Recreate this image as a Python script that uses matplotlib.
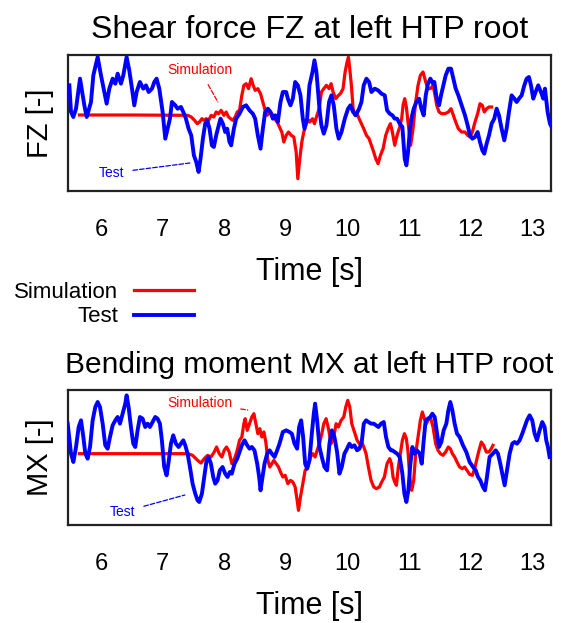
import matplotlib
matplotlib.use("Agg")
import matplotlib.pyplot as plt

plt.rcParams['font.family'] = ['Liberation Sans', 'DejaVu Sans']

# ---------------- data (time in s, signal in normalised units) ----------------
fz_test_t = [5.487, 5.514, 5.552, 5.595, 5.660, 5.703, 5.730, 5.768, 5.800, 5.838, 5.876, 5.946,
             6.000, 6.054, 6.092, 6.135, 6.189, 6.233, 6.270, 6.324, 6.362, 6.416, 6.459, 6.503,
             6.540, 6.578, 6.632, 6.686, 6.730, 6.773, 6.827, 6.865, 6.902, 6.946, 7.000, 7.043,
             7.081, 7.119, 7.151, 7.205, 7.243, 7.297, 7.335, 7.378, 7.421,
             7.464, 7.507, 7.545, 7.583, 7.615, 7.653, 7.691, 7.723, 7.761, 7.799, 7.831, 7.869,
             7.896, 7.939, 7.977, 8.015, 8.047, 8.085, 8.112, 8.156, 8.193, 8.247, 8.301, 8.355,
             8.409, 8.463, 8.501, 8.544, 8.588, 8.626, 8.663, 8.707, 8.750, 8.788, 8.825, 8.869,
             8.912, 8.950, 9.004, 9.031, 9.074, 9.112, 9.150, 9.193, 9.236, 9.274, 9.301, 9.344,
             9.382, 9.431, 9.463, 9.495, 9.522, 9.549, 9.576, 9.614, 9.657, 9.700, 9.738, 9.776,
             9.819, 9.857, 9.901, 9.955, 10.008, 10.046, 10.090, 10.133, 10.187, 10.225, 10.262,
             10.306, 10.349, 10.387, 10.441, 10.495, 10.549, 10.603, 10.641, 10.684, 10.727,
             10.765, 10.803, 10.846, 10.889, 10.927, 10.954, 10.981, 11.008, 11.035, 11.073,
             11.116, 11.160, 11.197, 11.235, 11.268, 11.305, 11.343, 11.387,
             11.408, 11.446, 11.484, 11.516, 11.554, 11.592, 11.635, 11.678, 11.716, 11.754,
             11.797, 11.851, 11.905, 11.948, 11.986, 12.024, 12.067, 12.110, 12.148, 12.186,
             12.218, 12.256, 12.294, 12.337, 12.380, 12.418, 12.456, 12.499, 12.542, 12.580,
             12.618, 12.661, 12.705, 12.743, 12.780, 12.824, 12.867, 12.905, 12.942, 12.975,
             13.012, 13.050, 13.093, 13.137, 13.175, 13.202, 13.245, 13.283, 13.310]
fz_test_v = [0.89, 0.09, -0.06, 0.19, 1.09, 0.59, 0.29, -0.06, 0.14, 0.39, 1.19, 1.74,
             1.19, 0.69, 0.34, 0.79, 1.09, 0.94, 1.24, 0.94, 1.19, 1.74, 1.34, 0.79,
             0.29, 0.69, 0.99, 0.79, 0.89, 0.69, 0.79, 0.99, 1.09, 0.79, 0.09, -0.71,
             -0.41, -0.11, 0.39, 0.29, 0.19, 0.24, 0.09, -0.11, -0.41,
             -0.61, -1.21, -1.41, -1.71, -1.31, -0.71, -0.26, -0.16, -0.41, -0.91, -0.96, -0.61,
             -0.41, -0.11, -0.26, -0.51, -0.41, -0.81, -0.91, -0.41, -0.11, 0.04, 0.24, 0.29,
             0.14, 0.04, -0.11, -0.61, -1.01, -0.41, 0.09, 0.19, 0.09, -0.11, -0.01, -0.21,
             0.39, 0.69, 0.69, 0.49, 0.29, 0.49, 0.99, 0.89, 0.59, -0.11, -0.41, -0.11,
             0.89, 1.29, 1.64, 1.29, 0.69, 0.09, -0.31, -0.56, -0.31, 0.39, 0.59, 0.29,
             -0.41, -0.71, -0.51, -0.11, 0.19, 0.29, 0.09, -0.01, 0.19, 0.39, 0.89,
             1.09, 0.99, 0.69, 0.79, 0.74, 0.64, 0.59, 0.14, 0.04, -0.01,
             -0.11, -0.11, -0.26, -0.36, -1.31, -1.51, -1.11, -0.51, -0.11, 0.19,
             0.39, 0.49, 0.19, -0.01, 0.59, 0.94, 1.09, 0.94,
             0.99, 0.49, 0.29, 0.59, 0.89, 1.19, 1.39, 1.39, 1.09, 0.79,
             0.59, 0.29, -0.01, -0.31, -0.61, -0.71, -0.66, -0.51, -0.81, -1.06,
             -1.16, -0.86, -0.61, -0.26, -0.11, 0.19, -0.01, -0.41, -0.76, -0.41,
             0.09, 0.59, 0.49, 0.39, 0.49, 0.59, 0.89, 1.09, 1.14, 0.89,
             0.49, 0.69, 0.89, 0.69, 0.49, 0.79, 0.09, -0.26, -0.36]

fz_sim_t = [5.650, 6.500, 7.410, 7.464, 7.518, 7.561, 7.599, 7.637, 7.669, 7.707, 7.745, 7.788,
            7.831, 7.869, 7.907, 7.950, 7.993, 8.031, 8.069, 8.102, 8.139, 8.177, 8.210, 8.247,
            8.285, 8.318, 8.355, 8.393, 8.436, 8.469, 8.501, 8.544, 8.588, 8.626, 8.663, 8.696,
            8.734, 8.771, 8.815, 8.858, 8.896, 8.933, 8.966, 9.004, 9.042, 9.085, 9.128, 9.166,
            9.193, 9.225, 9.258, 9.290, 9.328, 9.366,
            9.387, 9.431, 9.463, 9.495, 9.539, 9.576, 9.614, 9.657, 9.700, 9.733, 9.765, 9.809,
            9.852, 9.884, 9.927, 9.960, 9.992, 10.014, 10.035, 10.062, 10.090, 10.122, 10.154,
            10.187, 10.225, 10.262, 10.306, 10.349, 10.387, 10.424, 10.457, 10.495, 10.533,
            10.576, 10.619, 10.657, 10.695, 10.727, 10.765, 10.803, 10.846, 10.878, 10.900,
            10.927, 10.954, 10.986, 11.024, 11.062, 11.105, 11.143, 11.181, 11.224, 11.268,
            11.305, 11.343, 11.387,
            11.419, 11.446, 11.484, 11.527, 11.581, 11.635, 11.678, 11.716, 11.754, 11.797,
            11.851, 11.905, 11.948, 11.986, 12.024, 12.067, 12.110, 12.148, 12.186, 12.218,
            12.256, 12.294, 12.337]
fz_sim_v = [0.00, 0.00, -0.01, -0.06, -0.16, -0.26, -0.21, -0.11, -0.16, -0.11, -0.16, -0.01,
            -0.06, 0.09, 0.04, 0.14, -0.01, 0.09, -0.06, -0.11, -0.16, -0.06, 0.09, 0.14,
            0.59, 0.89, 0.94, 0.79, 1.09, 0.89, 0.74, 0.79, 0.64, 0.39, 0.14, -0.01,
            0.09, 0.04, -0.11, -0.21, -0.36, -0.51, -0.81, -0.61, -0.51, -0.61, -0.66, -1.11,
            -1.91, -1.31, -0.81, -0.51, -0.26, -0.16,
            -0.21, -0.11, -0.26, -0.06, 0.19, 0.69, 0.79, 0.89, 0.79, 0.94, 0.69, 0.49,
            0.59, 0.64, 0.79, 1.29, 1.59, 1.74, 1.39, 0.89, 0.19, -0.01, 0.04,
            -0.11, -0.26, -0.41, -0.61, -0.71, -0.91, -1.11, -1.31, -1.46, -1.21,
            -1.01, -0.61, -0.41, -0.26, -0.51, -0.91, -0.61, -0.36, -0.11, 0.29,
            0.49, 0.24, -0.31, -0.91, -0.41, 0.39, 0.89, 1.19, 1.29, 0.99,
            0.79, 0.79, 0.89,
            0.59, 0.29, 0.09, 0.04, 0.04, 0.09, 0.19, -0.01, -0.21, -0.41,
            -0.51, -0.51, -0.61, -0.66, -0.51, -0.21, 0.04, 0.34, 0.29, 0.09,
            0.19, 0.24, 0.24]

mx_test_t = [5.460, 5.514, 5.552, 5.595, 5.638, 5.676, 5.714, 5.746, 5.784, 5.822, 5.865, 5.908,
             5.946, 5.984, 6.027, 6.070, 6.108, 6.146, 6.189, 6.233, 6.270, 6.308, 6.351, 6.394,
             6.416, 6.448, 6.486, 6.524, 6.556, 6.594, 6.632, 6.675, 6.718, 6.756, 6.794, 6.837,
             6.880, 6.918, 6.956, 6.988, 7.026, 7.064, 7.097, 7.135, 7.172, 7.216, 7.259, 7.297,
             7.335, 7.367, 7.405, 7.443, 7.486, 7.529, 7.567, 7.594, 7.637, 7.675, 7.713, 7.745,
             7.783, 7.821, 7.853, 7.891, 7.928, 7.972, 8.015, 8.053, 8.091,
             8.123, 8.166, 8.210, 8.247, 8.285, 8.328, 8.372, 8.410, 8.447, 8.490, 8.534, 8.566,
             8.588, 8.620, 8.653, 8.696, 8.734, 8.772, 8.815, 8.858, 8.896, 8.950, 9.004, 9.058,
             9.096, 9.139, 9.182, 9.214, 9.247, 9.279, 9.312, 9.344, 9.382, 9.420, 9.452, 9.474,
             9.506, 9.544, 9.582, 9.625, 9.668, 9.706, 9.744, 9.787, 9.830, 9.868, 9.906, 9.949,
             9.992, 10.030, 10.068, 10.111, 10.155, 10.192, 10.230, 10.263, 10.300, 10.338,
             10.381, 10.425, 10.462, 10.500, 10.543, 10.587, 10.624, 10.662, 10.705,
             10.727, 10.765, 10.803, 10.846, 10.889, 10.922, 10.954, 10.986, 11.019, 11.051,
             11.089, 11.127, 11.170, 11.203, 11.235, 11.267, 11.305, 11.343, 11.375, 11.413,
             11.451, 11.483, 11.521, 11.559, 11.602, 11.635, 11.667, 11.700, 11.737, 11.775,
             11.818, 11.872, 11.926, 11.980, 12.035, 12.078, 12.116, 12.153, 12.196, 12.229,
             12.261, 12.304, 12.358, 12.402, 12.440, 12.477, 12.521, 12.548, 12.586, 12.629,
             12.672, 12.710, 12.748, 12.791, 12.834, 12.872, 12.910, 12.953, 12.996, 13.034,
             13.072, 13.115, 13.158, 13.196, 13.223, 13.250, 13.277]
mx_test_v = [0.90, 0.00, -0.25, 0.20, 0.80, 1.00, 0.50, 0.00, -0.15, 0.20, 1.00, 1.40,
             1.55, 1.40, 0.90, 0.25, 0.15, 0.50, 0.85, 1.00, 1.10, 0.90, 1.20, 1.50,
             1.75, 1.40, 0.80, 0.30, 0.20, 0.70, 1.10, 1.05, 0.80, 0.90, 0.80, 0.95,
             1.10, 1.05, 0.90, 0.40, -0.40, -0.65, -0.25, 0.30, 0.55, 0.30, 0.20, 0.30,
             0.40, 0.25, 0.00, -0.40, -0.90, -1.20, -1.40, -1.45, -1.20, -0.70, -0.20, -0.10,
             -0.30, -0.70, -0.90, -0.80, -0.50, -0.40, -0.60, -0.70, -0.55,
             -0.60, -0.30, -0.15, 0.05, 0.25, 0.40, 0.25, 0.15, 0.20, 0.10, -0.30, -0.70,
             -1.10, -0.70, -0.30, 0.00, 0.10, 0.00, -0.10, 0.10, 0.30, 0.65, 0.70, 0.65,
             0.60, 0.30, 0.15, 0.80, 1.00, 0.50, -0.30, -0.45, -0.20, 0.60, 1.20, 1.50,
             1.00, 0.20, -0.10, -0.40, -0.50, 0.30, 0.70, 0.50, 0.05, -0.60, -0.40, 0.00,
             0.15, 0.30, 0.20, 0.25, 0.10, 0.15, 0.35, 0.90, 1.00, 0.95,
             0.90, 0.90, 0.85, 0.80, 0.90, 0.95, 0.50, 0.20, 0.10,
             0.10, 0.05, 0.00, -0.10, -0.60, -1.20, -1.45, -1.10, -0.30, 0.20,
             0.00, 0.10, 0.00, -0.30, 0.40, 1.00, 1.05, 1.10, 1.20, 1.10,
             0.60, 0.20, 0.35, 0.70, 0.90, 1.30, 1.55, 1.30, 0.90, 0.60,
             0.50, 0.25, 0.05, -0.25, -0.40, -0.50, -0.70, -0.80, -1.00, -1.10,
             -0.70, -0.10, 0.00, 0.10, 0.00, -0.30, -0.70, -0.95, -0.50, 0.00,
             0.30, 0.35, 0.30, 0.40, 0.60, 0.80, 1.00, 1.15, 1.00, 0.60,
             0.40, 0.70, 0.95, 0.80, 0.40, 0.20, -0.10]

mx_sim_t = [5.650, 6.500, 7.405, 7.486, 7.567, 7.621, 7.675, 7.729, 7.783, 7.837, 7.875, 7.918,
            7.961, 7.999, 8.037, 8.080,
            8.123, 8.166, 8.210, 8.247, 8.285, 8.318, 8.339, 8.372, 8.410, 8.447, 8.480, 8.512,
            8.545, 8.577, 8.609, 8.642, 8.674, 8.707, 8.739, 8.772, 8.804, 8.842, 8.880, 8.912,
            8.950, 8.988, 9.031, 9.074, 9.112, 9.150, 9.182, 9.204, 9.236, 9.274, 9.312, 9.355,
            9.398, 9.436, 9.474, 9.506, 9.544, 9.582, 9.614, 9.652, 9.690, 9.733, 9.776, 9.814,
            9.852, 9.895, 9.938, 9.971, 10.003, 10.036, 10.068, 10.111, 10.155, 10.192, 10.230,
            10.263, 10.300, 10.338, 10.381, 10.425, 10.468, 10.516, 10.554, 10.597, 10.640,
            10.684, 10.711, 10.738, 10.765, 10.792, 10.824, 10.857, 10.889, 10.922, 10.954,
            10.981, 11.008, 11.041, 11.073, 11.105, 11.143, 11.181, 11.213, 11.246, 11.278,
            11.305, 11.343, 11.386, 11.429, 11.467, 11.505, 11.548, 11.591, 11.635, 11.667,
            11.700, 11.737, 11.775, 11.818, 11.862, 11.899, 11.937, 11.980, 12.024, 12.062,
            12.099, 12.132, 12.170, 12.207, 12.251, 12.294, 12.332, 12.359]
mx_sim_v = [0.00, 0.00, 0.00, -0.05, -0.20, -0.28, -0.15, -0.05, -0.10, 0.05, 0.20, 0.00,
            -0.10, 0.10, 0.20, 0.05,
            -0.30, -0.15, 0.10, 0.40, 0.50, 0.90, 1.05, 0.70, 0.90, 1.10, 1.20, 0.90,
            0.60, 0.75, 0.50, 0.65, 0.35, -0.20, -0.40, -0.30, -0.20, -0.30, -0.40, -0.55,
            -0.70, -0.65, -0.90, -0.80, -0.85, -1.00, -1.40, -1.70, -1.30, -0.90, -0.50, -0.40,
            -0.10, 0.00, -0.10, 0.10, 0.30, 0.60, 0.90, 1.05, 0.75, 0.30, 0.50, 0.90,
            0.80, 1.00, 1.10, 1.40, 1.60, 1.40, 0.90, 0.65, 0.40, 0.30, 0.35,
            0.20, 0.00, -0.40, -0.80, -1.00, -1.05, -1.00, -0.85, -0.70, -0.30,
            -0.15, -0.30, -0.70, -0.85, -0.95, -0.40, 0.00, 0.40, 0.60, 0.45,
            0.05, -0.70, -1.10, -0.80, 0.00, 0.50, 1.00, 1.25, 1.05, 0.90,
            1.00, 1.10, 0.80, 0.30, 0.10, 0.00, -0.05, 0.05, 0.20, 0.15,
            0.00, -0.10, -0.25, -0.40, -0.45, -0.40, -0.50, -0.62, -0.65, -0.45,
            -0.15, 0.10, 0.35, 0.25, 0.05, 0.05, 0.15, 0.25]

x_ticks = [6, 7, 8, 9, 10, 11, 12, 13]
titles = ["Shear force FZ at left HTP root", "Bending moment MX at left HTP root"]
title_sizes = [23, 21.5]
ylabels = ["FZ [-]", "MX [-]"]
xlabel = "Time [s]"
series_names = ["Simulation", "Test"]

# ---------------- figure ----------------
fig = plt.figure(figsize=(5.61, 6.23), dpi=100)
W, H = 561, 623
ax1 = fig.add_axes([68 / W, 1 - 191 / H, 483 / W, 136 / H])
ax2 = fig.add_axes([68 / W, 1 - 525 / H, 483 / W, 135 / H])

RED = '#ff0000'
BLUE = '#0000ff'

panels = [
    (ax1, fz_sim_t, fz_sim_v, fz_test_t, fz_test_v, (-2.28, 1.80)),
    (ax2, mx_sim_t, mx_sim_v, mx_test_t, mx_test_v, (-2.14, 1.91)),
]
handles = None
for i, (ax, st, sv, tt, tv, yl) in enumerate(panels):
    hs, = ax.plot(st, sv, color=RED, lw=2.3, label=series_names[0], zorder=2)
    ht, = ax.plot(tt, tv, color=BLUE, lw=2.8, label=series_names[1], zorder=3)
    if handles is None:
        handles = [hs, ht]
    ax.set_xlim(5.465, 13.30)
    ax.set_ylim(*yl)
    ax.set_yticks([])
    ax.set_xticks(x_ticks)
    ax.tick_params(axis='x', length=0, pad=20, labelsize=17)
    ax.set_title(titles[i], fontsize=title_sizes[i], pad=12)
    ax.set_ylabel(ylabels[i], fontsize=21, labelpad=10)
    ax.set_xlabel(xlabel, fontsize=22, labelpad=12)
    for sp in ax.spines.values():
        sp.set_linewidth(1.6)
        sp.set_color('#222222')

# annotations
ann = dict(fontsize=10, ha='center', va='center')
ax1.annotate("Simulation", xy=(7.896, 0.39), xytext=(7.605, 1.35), color=RED, **ann,
             arrowprops=dict(arrowstyle='-', color=RED, ls='--', lw=0.9, shrinkA=4, shrinkB=0))
ax1.annotate("Test", xy=(7.442, -1.44), xytext=(6.178, -1.74), color=BLUE, **ann,
             arrowprops=dict(arrowstyle='-', color=BLUE, ls='--', lw=0.9, shrinkA=4, shrinkB=0))
ax2.annotate("Simulation", xy=(8.38, 1.31), xytext=(7.605, 1.52), color=RED, **ann,
             arrowprops=dict(arrowstyle='-', color=RED, ls='--', lw=0.9, shrinkA=4, shrinkB=0))
ax2.annotate("Test", xy=(7.361, -1.24), xytext=(6.357, -1.75), color=BLUE, **ann,
             arrowprops=dict(arrowstyle='-', color=BLUE, ls='--', lw=0.9, shrinkA=4, shrinkB=0))

leg = fig.legend(handles=handles, labels=series_names, loc='upper left',
                 bbox_to_anchor=(3 / W, 1 - 271 / H), frameon=False, markerfirst=False,
                 fontsize=16, handlelength=2.7, handletextpad=0.7, labelspacing=0.15,
                 borderpad=0.0)

fig.savefig("out.png", dpi=100)
